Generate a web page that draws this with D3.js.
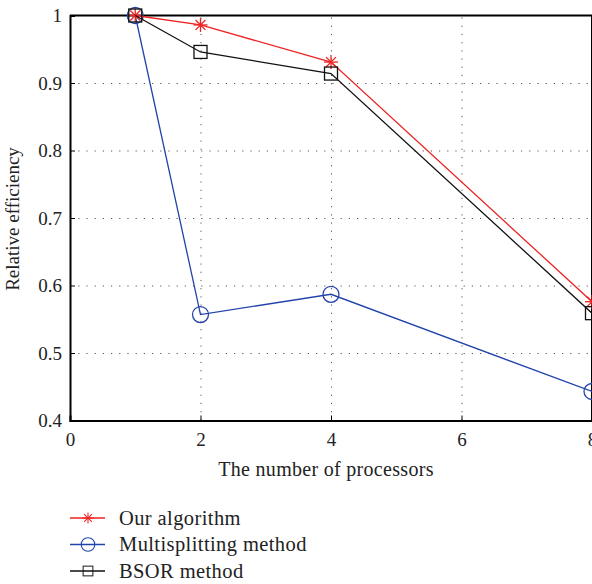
<!DOCTYPE html>
<html>
<head>
<meta charset="utf-8">
<script src="https://cdn.jsdelivr.net/npm/d3@7"></script>
<style>
  body { margin: 0; background: #fff; }
  text { font-family: "Liberation Serif", "DejaVu Serif", serif; fill: #222; }
  .grid line { stroke: #555; stroke-dasharray: 1.2 7; }
  .grid path { display: none; }
</style>
</head>
<body>
<div id="viz"></div>
<script>
// processors on the x axis
var processors = [1, 2, 4, 8];

// relative efficiency for each method
var ourAlgorithm = [1, 0.986, 0.931, 0.576];
var multisplitting = [1, 0.557, 0.587, 0.443];
var bsorMethod = [1, 0.946, 0.914, 0.559];

var xTicks = [0, 2, 4, 6, 8];
var yTicks = [0.4, 0.5, 0.6, 0.7, 0.8, 0.9, 1];

var seriesNames = ['Our algorithm', 'Multisplitting method', 'BSOR method'];
var seriesColors = ['#ee2222', '#2244aa', '#111111'];
var seriesMarkers = ['star', 'circle', 'square'];

function efficiencyChart() {
  let svg = d3.select('#viz').append('svg')
    .attr('width', 592)
    .attr('height', 584);

  let left = 70, top = 15.5;
  let width = 522, height = 405;

  let chart = svg.append('g')
    .attr('transform', `translate(${left}, ${top})`);

  let xScale = d3.scaleLinear().domain([0, 8]).range([0, width]);
  let yScale = d3.scaleLinear().domain([0.4, 1]).range([height, 0]);

  // dotted grid lines
  chart.append('g')
    .attr('class', 'grid')
    .attr('transform', `translate(0, ${height})`)
    .call(d3.axisBottom(xScale).tickValues(xTicks.slice(1, -1)).tickSize(-height).tickFormat(''));

  chart.append('g')
    .attr('class', 'grid')
    .call(d3.axisLeft(yScale).tickValues(yTicks.slice(1, -1)).tickSize(-width).tickFormat(''));

  // axes with inward ticks
  let xAxis = chart.append('g')
    .attr('transform', `translate(0, ${height})`)
    .call(d3.axisBottom(xScale).tickValues(xTicks).tickSize(-5).tickPadding(12).tickFormat(d3.format('d')));
  let yAxis = chart.append('g')
    .call(d3.axisLeft(yScale).tickValues(yTicks).tickSize(-5).tickPadding(8).tickFormat((d) => d === 1 ? '1' : d.toFixed(1)));

  [xAxis, yAxis].forEach((ax) => {
    ax.select('.domain').attr('stroke', '#000').attr('stroke-width', 2);
    ax.selectAll('.tick line').attr('stroke', '#000').attr('stroke-width', 1);
    ax.selectAll('text').attr('font-size', 19).attr('fill', '#222')
      .style('font-family', '"Liberation Serif", "DejaVu Serif", serif');
  });

  // top and right border
  chart.append('line').attr('x1', 0).attr('x2', width).attr('y1', 0).attr('y2', 0)
    .attr('stroke', '#000').attr('stroke-width', 2);
  chart.append('line').attr('x1', width).attr('x2', width).attr('y1', 0).attr('y2', height)
    .attr('stroke', '#000').attr('stroke-width', 2);

  let line = d3.line()
    .x((d) => xScale(d[0]))
    .y((d) => yScale(d[1]));

  function drawMarker(g, type, x, y, color) {
    if (type === 'star') {
      let r = 7;
      [0, 45, 90, 135].forEach((a) => {
        let rad = a * Math.PI / 180;
        g.append('line')
          .attr('x1', x - r * Math.cos(rad)).attr('y1', y - r * Math.sin(rad))
          .attr('x2', x + r * Math.cos(rad)).attr('y2', y + r * Math.sin(rad))
          .attr('stroke', color).attr('stroke-width', 1.3);
      });
    } else if (type === 'circle') {
      g.append('circle').attr('cx', x).attr('cy', y).attr('r', 8)
        .attr('fill', 'none').attr('stroke', color).attr('stroke-width', 1.3);
    } else {
      g.append('rect').attr('x', x - 6.5).attr('y', y - 6.5).attr('width', 13).attr('height', 13)
        .attr('fill', 'none').attr('stroke', color).attr('stroke-width', 1.3);
    }
  }

  let allSeries = [ourAlgorithm, multisplitting, bsorMethod];
  // draw in order so black sits on top like the original
  [1, 0, 2].forEach((i) => {
    let pts = processors.map((p, j) => [p, allSeries[i][j]]);
    let g = chart.append('g');
    g.append('path')
      .datum(pts)
      .attr('d', line)
      .attr('fill', 'none')
      .attr('stroke', seriesColors[i])
      .attr('stroke-width', 1.3);
    pts.forEach((p) => drawMarker(g, seriesMarkers[i], xScale(p[0]), yScale(p[1]), seriesColors[i]));
  });

  // axis titles
  svg.append('text')
    .attr('x', 326)
    .attr('y', 476)
    .attr('text-anchor', 'middle')
    .attr('font-size', 20)
    .attr('letter-spacing', 0.3)
    .text('The number of processors');

  svg.append('text')
    .attr('transform', 'translate(19, 219) rotate(-90)')
    .attr('text-anchor', 'middle')
    .attr('font-size', 19)
    .text('Relative efficiency');

  // legend
  let legend = svg.append('g');
  seriesNames.forEach((name, i) => {
    let y = 518 + i * 26.5;
    legend.append('line')
      .attr('x1', 70).attr('x2', 105).attr('y1', y).attr('y2', y)
      .attr('stroke', seriesColors[i]).attr('stroke-width', 1.3);
    let mg = legend.append('g');
    drawMarker(mg, seriesMarkers[i], 88, y, seriesColors[i]);
    let s = [0.8, 0.85, 0.75][i];
    mg.attr('transform', `translate(88,${y}) scale(${s}) translate(-88,${-y})`);
    legend.append('text')
      .attr('x', 119)
      .attr('y', y + 6.5)
      .attr('font-size', 20.5)
      .attr('letter-spacing', 0.4)
      .text(name);
  });
}

efficiencyChart();
</script>
</body>
</html>
